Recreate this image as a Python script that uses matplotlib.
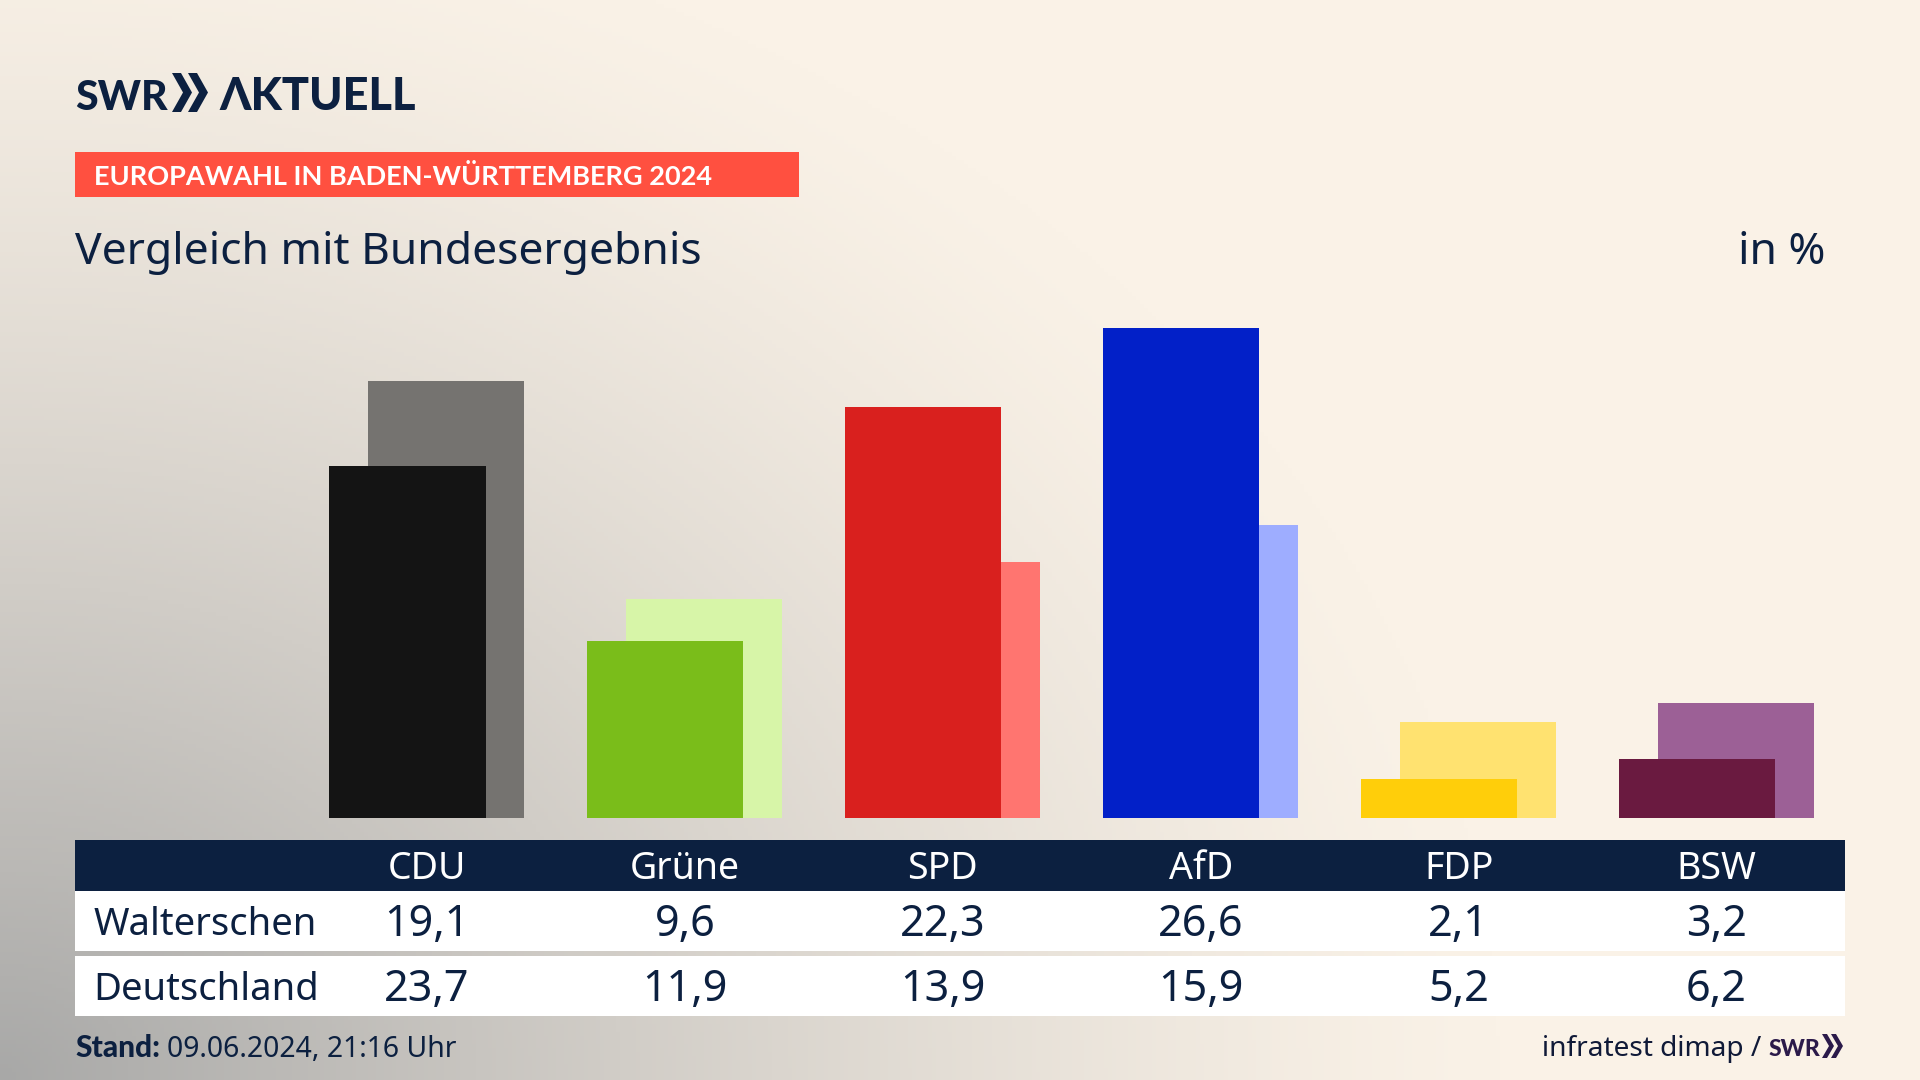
import numpy as np
import matplotlib
matplotlib.use("Agg")
import matplotlib.pyplot as plt
from matplotlib.patches import Rectangle, Polygon

parteien = ["CDU", "Grüne", "SPD", "AfD", "FDP", "BSW"]
walterschen = [19.1, 9.6, 22.3, 26.6, 2.1, 3.2]
deutschland = [23.7, 11.9, 13.9, 15.9, 5.2, 6.2]
farben_vorn = ["#141414", "#7ABD1A", "#D9201E", "#0220C8", "#FFCE0A", "#6A1A40"]
farben_hinten = ["#757370", "#D7F5A8", "#FF7570", "#9EADFF", "#FFE270", "#9C6096"]

NAVY = "#0C2040"
BOLD = ["Lato", "DejaVu Sans"]
plt.rcParams["font.family"] = ["Noto Sans", "DejaVu Sans"]

fig = plt.figure(figsize=(19.2, 10.8), dpi=100)

# hintergrund + alles was in pixeln liegt
bg = fig.add_axes([0, 0, 1, 1])
bg.set_xlim(0, 1920); bg.set_ylim(1080, 0); bg.axis("off")
yy, xx = np.mgrid[0:1080:270j, 0:1920:480j]
d = np.sqrt((xx / 1500) ** 2 + ((1080 - yy) / 1200) ** 2)
t = (np.clip(1 - d, 0, 1) ** 1.3)[..., None]
creme = np.array([0xFA, 0xF2, 0xE7]) / 255
grau = np.array([0xA8, 0xA8, 0xA7]) / 255
bg.imshow(creme * (1 - t) + grau * t, extent=(0, 1920, 1080, 0), aspect="auto", zorder=0)


def chevrons(x, top, bot, w, th, gap, col):
    mid = (top + bot) / 2
    for i in range(2):
        x0 = x + i * gap
        bg.add_patch(Polygon([(x0, top), (x0 + th, top), (x0 + w, mid), (x0 + th, bot), (x0, bot), (x0 + w - th, mid)],
                             closed=True, color=col, lw=0, zorder=3))


# logo
bg.text(75, 110, "SWR", fontsize=29.5, fontweight="black", family=BOLD, color=NAVY, va="baseline", ha="left")
chevrons(172, 73, 112, 20, 9, 16, NAVY)
bg.text(219, 110, "ΛKTUELL", fontsize=32.5, fontweight="black", family=BOLD, color=NAVY, va="baseline", ha="left")

# kopf
bg.add_patch(Rectangle((75, 152), 724, 45, color="#FF5040", lw=0))
bg.text(94, 185, "EUROPAWAHL IN BADEN-WÜRTTEMBERG 2024", fontsize=19.5, fontweight="bold", family=BOLD, color="white", va="baseline")
bg.text(75, 264, "Vergleich mit Bundesergebnis", fontsize=32, color=NAVY, va="baseline")
bg.text(1825, 264, "in %", fontsize=32, color=NAVY, va="baseline", ha="right")

# tabelle
X0 = 427; DX = 257.9
bg.add_patch(Rectangle((75, 840), 1770, 51, color=NAVY, lw=0))
bg.add_patch(Rectangle((75, 891), 1770, 60, color="white", lw=0))
bg.add_patch(Rectangle((75, 956), 1770, 60, color="white", lw=0))
bg.text(94, 935, "Walterschen", fontsize=27.5, color=NAVY, va="baseline")
bg.text(93, 1000, "Deutschland", fontsize=27.5, color=NAVY, va="baseline")
for i, p in enumerate(parteien):
    xc = X0 + i * DX
    bg.text(xc, 879, p, fontsize=27, color="white", ha="center", va="baseline")
    bg.text(xc, 936, f"{walterschen[i]:.1f}".replace(".", ","), fontsize=31, color=NAVY, ha="center", va="baseline")
    bg.text(xc, 1001, f"{deutschland[i]:.1f}".replace(".", ","), fontsize=31, color=NAVY, ha="center", va="baseline")

# fuss
bg.text(75, 1057, "Stand:", fontsize=21.5, fontweight="black", family=BOLD, color=NAVY, va="baseline")
bg.text(167, 1057, "09.06.2024, 21:16 Uhr", fontsize=20.4, color=NAVY, va="baseline")
bg.text(1761, 1056, "infratest dimap /", fontsize=20.2, color="#101A38", ha="right", va="baseline")
bg.text(1769, 1056, "SWR", fontsize=16.5, fontweight="black", family=BOLD, color="#2B1A4A", va="baseline")
chevrons(1822, 1034, 1058, 12, 5, 9, "#2B1A4A")

# balken
ax = fig.add_axes([75 / 1920, (1080 - 817.7) / 1080, 1770 / 1920, 552.6 / 1080])
ax.patch.set_alpha(0)
ax.set_xlim((75 - X0) / DX, (1845 - X0) / DX)
ax.set_ylim(0, 30)
ax.axis("off")
x = np.arange(len(parteien))
ax.bar(x + 0.075, deutschland, width=0.606, color=farben_hinten, zorder=2)
ax.bar(x - 0.076, walterschen, width=0.606, color=farben_vorn, zorder=3)

fig.savefig("out.png", dpi=100)
